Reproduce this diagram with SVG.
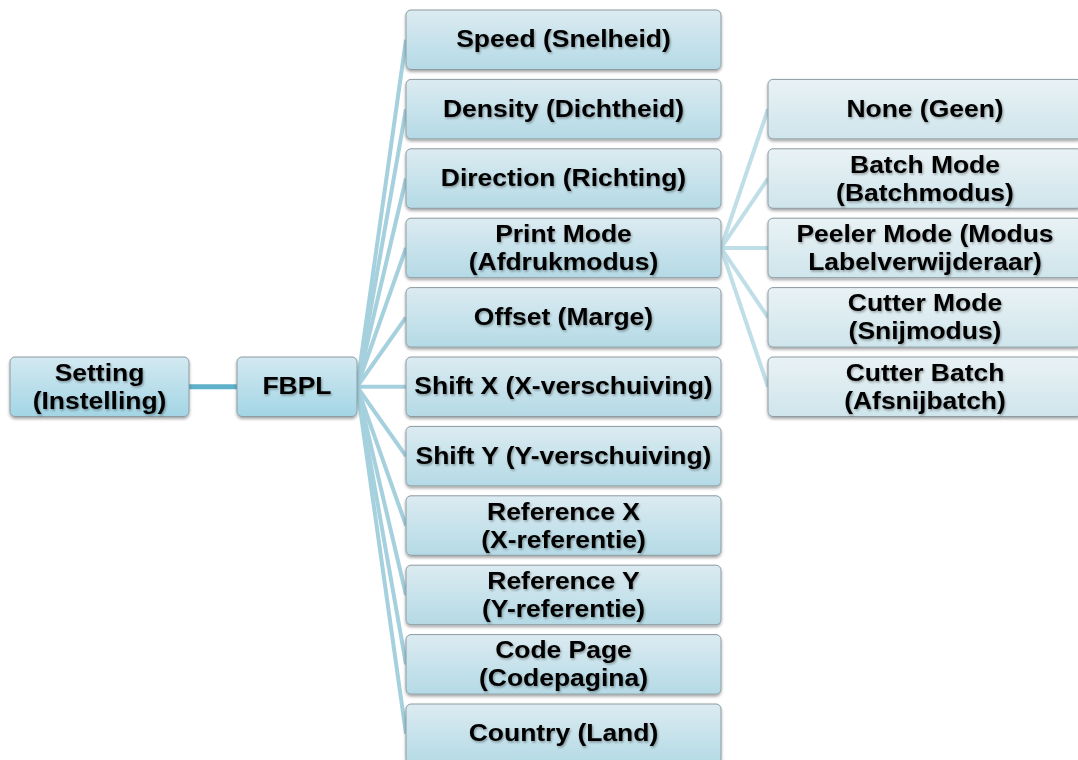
<svg xmlns="http://www.w3.org/2000/svg" width="1078" height="760" viewBox="0 0 1078 760">
<defs>
<linearGradient id="gDark" x1="0" y1="0" x2="0" y2="1"><stop offset="0" stop-color="#d3e9f1"/><stop offset="1" stop-color="#a3d5e5"/></linearGradient>
<linearGradient id="gMid" x1="0" y1="0" x2="0" y2="1"><stop offset="0" stop-color="#dcebf1"/><stop offset="1" stop-color="#b4dae6"/></linearGradient>
<linearGradient id="gLight" x1="0" y1="0" x2="0" y2="1"><stop offset="0" stop-color="#e9f2f5"/><stop offset="1" stop-color="#cfe5ec"/></linearGradient>
<filter id="bs" x="-10%" y="-20%" width="120%" height="150%"><feDropShadow dx="0" dy="2" stdDeviation="1.5" flood-color="#000" flood-opacity="0.35"/></filter>
<filter id="ts" x="-10%" y="-30%" width="120%" height="160%"><feDropShadow dx="1" dy="1.5" stdDeviation="1.2" flood-color="#000" flood-opacity="0.35"/></filter>
</defs>
<style>
.box{stroke:#8c9ca2;stroke-width:1}
.d{fill:url(#gDark)}
.m{fill:url(#gMid)}
.l{fill:url(#gLight)}
text{font-family:"Liberation Sans",Arial,sans-serif;font-weight:bold;font-size:24.5px;fill:#000;text-anchor:middle;filter:url(#ts);transform-box:fill-box;transform-origin:center;transform:scaleX(1.08)}
.c1{stroke:#5fb0c9;stroke-width:5;fill:none}
.c2{stroke:#a5d0dd;stroke-width:4;fill:none}
.c3{stroke:#bfdee7;stroke-width:4;fill:none}
</style>
<rect width="1078" height="760" fill="#fff"/>
<g id="connectors">
<line class="c1" x1="189" y1="386.75" x2="237" y2="386.75"/>
<line class="c2" x1="357" y1="386.75" x2="406" y2="39.75"/>
<line class="c2" x1="357" y1="386.75" x2="406" y2="109.15"/>
<line class="c2" x1="357" y1="386.75" x2="406" y2="178.55"/>
<line class="c2" x1="357" y1="386.75" x2="406" y2="247.95"/>
<line class="c2" x1="357" y1="386.75" x2="406" y2="317.35"/>
<line class="c2" x1="357" y1="386.75" x2="406" y2="386.75"/>
<line class="c2" x1="357" y1="386.75" x2="406" y2="456.15"/>
<line class="c2" x1="357" y1="386.75" x2="406" y2="525.55"/>
<line class="c2" x1="357" y1="386.75" x2="406" y2="594.95"/>
<line class="c2" x1="357" y1="386.75" x2="406" y2="664.35"/>
<line class="c2" x1="357" y1="386.75" x2="406" y2="733.75"/>
<line class="c3" x1="721" y1="247.95" x2="768" y2="109.15"/>
<line class="c3" x1="721" y1="247.95" x2="768" y2="178.55"/>
<line class="c3" x1="721" y1="247.95" x2="768" y2="247.95"/>
<line class="c3" x1="721" y1="247.95" x2="768" y2="317.35"/>
<line class="c3" x1="721" y1="247.95" x2="768" y2="386.75"/>
</g>
<g id="setting"><rect class="box d" filter="url(#bs)" x="10" y="357" width="179" height="59.5" rx="5"/><text x="99.5" y="380.75">Setting</text><text x="99.5" y="408.75">(Instelling)</text></g>
<g id="fbpl"><rect class="box d" filter="url(#bs)" x="237" y="357" width="120" height="59.5" rx="5"/><text x="297" y="394.25">FBPL</text></g>
<g id="speed"><rect class="box m" filter="url(#bs)" x="406" y="10" width="315" height="59.5" rx="5"/><text x="563.5" y="47.25">Speed (Snelheid)</text></g>
<g id="density"><rect class="box m" filter="url(#bs)" x="406" y="79.4" width="315" height="59.5" rx="5"/><text x="563.5" y="116.65">Density (Dichtheid)</text></g>
<g id="direction"><rect class="box m" filter="url(#bs)" x="406" y="148.8" width="315" height="59.5" rx="5"/><text x="563.5" y="186.05">Direction (Richting)</text></g>
<g id="printmode"><rect class="box m" filter="url(#bs)" x="406" y="218.2" width="315" height="59.5" rx="5"/><text x="563.5" y="241.95">Print Mode</text><text x="563.5" y="269.95">(Afdrukmodus)</text></g>
<g id="offset"><rect class="box m" filter="url(#bs)" x="406" y="287.6" width="315" height="59.5" rx="5"/><text x="563.5" y="324.85">Offset (Marge)</text></g>
<g id="shiftx"><rect class="box m" filter="url(#bs)" x="406" y="357" width="315" height="59.5" rx="5"/><text x="563.5" y="394.25">Shift X (X-verschuiving)</text></g>
<g id="shifty"><rect class="box m" filter="url(#bs)" x="406" y="426.4" width="315" height="59.5" rx="5"/><text x="563.5" y="463.65">Shift Y (Y-verschuiving)</text></g>
<g id="refx"><rect class="box m" filter="url(#bs)" x="406" y="495.8" width="315" height="59.5" rx="5"/><text x="563.5" y="519.55">Reference X</text><text x="563.5" y="547.55">(X-referentie)</text></g>
<g id="refy"><rect class="box m" filter="url(#bs)" x="406" y="565.2" width="315" height="59.5" rx="5"/><text x="563.5" y="588.95">Reference Y</text><text x="563.5" y="616.95">(Y-referentie)</text></g>
<g id="codepage"><rect class="box m" filter="url(#bs)" x="406" y="634.6" width="315" height="59.5" rx="5"/><text x="563.5" y="658.35">Code Page</text><text x="563.5" y="686.35">(Codepagina)</text></g>
<g id="country"><rect class="box m" filter="url(#bs)" x="406" y="704" width="315" height="59.5" rx="5"/><text x="563.5" y="741.25">Country (Land)</text></g>
<g id="none"><rect class="box l" filter="url(#bs)" x="768" y="79.4" width="314" height="59.5" rx="5"/><text x="925" y="116.65">None (Geen)</text></g>
<g id="batch"><rect class="box l" filter="url(#bs)" x="768" y="148.8" width="314" height="59.5" rx="5"/><text x="925" y="172.55">Batch Mode</text><text x="925" y="200.55">(Batchmodus)</text></g>
<g id="peeler"><rect class="box l" filter="url(#bs)" x="768" y="218.2" width="314" height="59.5" rx="5"/><text x="925" y="241.95">Peeler Mode (Modus</text><text x="925" y="269.95">Labelverwijderaar)</text></g>
<g id="cutter"><rect class="box l" filter="url(#bs)" x="768" y="287.6" width="314" height="59.5" rx="5"/><text x="925" y="311.35">Cutter Mode</text><text x="925" y="339.35">(Snijmodus)</text></g>
<g id="cutterbatch"><rect class="box l" filter="url(#bs)" x="768" y="357" width="314" height="59.5" rx="5"/><text x="925" y="380.75">Cutter Batch</text><text x="925" y="408.75">(Afsnijbatch)</text></g>
</svg>
